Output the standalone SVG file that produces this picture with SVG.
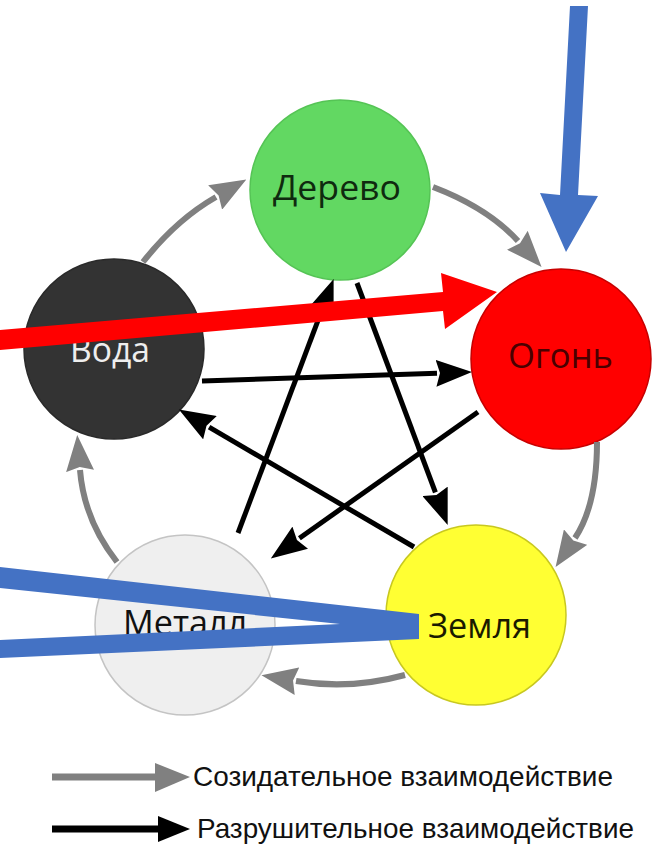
<svg xmlns="http://www.w3.org/2000/svg" width="658" height="848" viewBox="0 0 658 848">
  <style>
    .node-text { font-family: "Open Sans", "Noto Sans", "DejaVu Sans", sans-serif; font-size: 35px; }
    .legend-text { font-family: "Liberation Sans", Arial, sans-serif; font-size: 28px; fill: #111111; }
    .gray { fill: none; stroke: #808080; stroke-width: 6; }
    .black { fill: none; stroke: #000000; stroke-width: 5; }
  </style>
  <defs>
    <marker id="head-gray" markerUnits="userSpaceOnUse" viewBox="0 0 36 28" markerWidth="36" markerHeight="28" refX="1" refY="14" orient="auto">
      <path d="M0,0 L36,14 L0,28 L4,14 z" fill="#808080"/>
    </marker>
    <marker id="head-black" markerUnits="userSpaceOnUse" viewBox="0 0 36 27" markerWidth="36" markerHeight="27" refX="1" refY="13.5" orient="auto">
      <path d="M0,0 L36,13.5 L0,27 L4,13.5 z" fill="#000000"/>
    </marker>
  </defs>
  <rect width="658" height="848" fill="#ffffff"/>

  <g id="node-derevo">
    <circle cx="340" cy="190" r="90" fill="#62d862" stroke="#55c455" stroke-width="1.5"/>
    <text class="node-text" x="273" y="200" textLength="128" lengthAdjust="spacingAndGlyphs" fill="#0f2a0f">Дерево</text>
  </g>
  <g id="node-voda">
    <circle cx="114" cy="349" r="90" fill="#333333" stroke="#2a2a2a" stroke-width="1.5"/>
    <text class="node-text" x="70" y="362" textLength="80" lengthAdjust="spacingAndGlyphs" fill="#eeeeee">Вода</text>
  </g>
  <g id="node-ogon">
    <circle cx="561" cy="359" r="90" fill="#ff0000" stroke="#c80000" stroke-width="1.5"/>
    <text class="node-text" x="508" y="368" textLength="105" lengthAdjust="spacingAndGlyphs" fill="#4a0000">Огонь</text>
  </g>
  <g id="node-metall">
    <circle cx="185" cy="625" r="90" fill="#efefef" stroke="#c4c4c4" stroke-width="1.5"/>
    <text class="node-text" x="123" y="635" textLength="124" lengthAdjust="spacingAndGlyphs" fill="#111111">Металл</text>
  </g>
  <g id="node-zemlya">
    <circle cx="476" cy="615" r="90" fill="#ffff33" stroke="#c8c820" stroke-width="1.5"/>
    <text class="node-text" x="428" y="638" textLength="103" lengthAdjust="spacingAndGlyphs" fill="#1a1a00">Земля</text>
  </g>

  <g id="connectors">
    <path class="gray" d="M143,262 Q176,220 216,197" marker-end="url(#head-gray)"/>
    <path class="gray" d="M433,187 Q488,208 518,241" marker-end="url(#head-gray)"/>
    <path class="gray" d="M597,442 Q597,505 575,538" marker-end="url(#head-gray)"/>
    <path class="gray" d="M405,675 Q350,690 296,681" marker-end="url(#head-gray)"/>
    <path class="gray" d="M117,562 Q84,520 80,470" marker-end="url(#head-gray)"/>
    <path class="black" d="M202,381 L437,373.2" marker-end="url(#head-black)"/>
    <path class="black" d="M478,412 L299.4,538.2" marker-end="url(#head-black)"/>
    <path class="black" d="M238,533 L321.3,311.7" marker-end="url(#head-black)"/>
    <path class="black" d="M357,283 L435.4,492.3" marker-end="url(#head-black)"/>
    <path class="black" d="M414,547 L209.1,427.2" marker-end="url(#head-black)"/>
  </g>

  <g id="legend">
    <line x1="52" y1="777" x2="157" y2="777" stroke="#808080" stroke-width="7"/>
    <polygon points="155,763 190,777 155,792" fill="#808080"/>
    <text class="legend-text" x="193" y="786" textLength="420" lengthAdjust="spacingAndGlyphs">Созидательное взаимодействие</text>
    <line x1="52" y1="829" x2="160" y2="829" stroke="#000000" stroke-width="7"/>
    <polygon points="158,816 190,829 158,842" fill="#000000"/>
    <text class="legend-text" x="197" y="838" textLength="437" lengthAdjust="spacingAndGlyphs">Разрушительное взаимодействие</text>
  </g>

  <g id="annotations">
    <polygon id="red-arrow" points="0,330 443,292 441,273 497,292 445,329 443,311 0,350" fill="#ff0000"/>
    <polygon id="blue-arrow" points="570,6 588,6 578,195 598,196 566,252 540,193 560,195" fill="#4472c4"/>
    <polygon id="blue-wedge" points="0,567 419,614 419,639 0,658 0,640 340,624 0,588" fill="#4472c4"/>
  </g>
</svg>
